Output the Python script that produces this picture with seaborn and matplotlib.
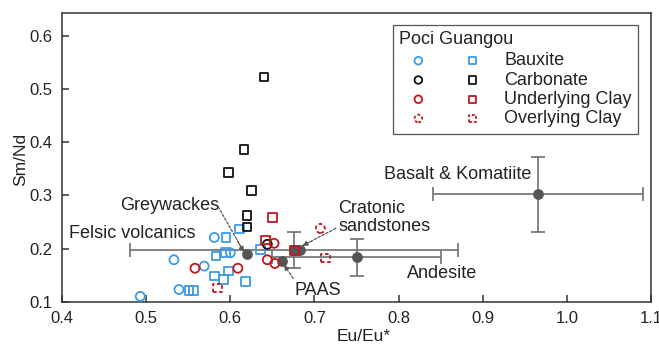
import numpy as np
import pandas as pd
import seaborn as sns
import matplotlib
matplotlib.use("Agg")
import matplotlib.pyplot as plt
from matplotlib.legend_handler import HandlerTuple

# ---- sample data (Eu/Eu*, Sm/Nd) ----
bauxite_poci_x = [0.493, 0.533, 0.539, 0.569, 0.581, 0.600]
bauxite_poci_y = [0.110, 0.179, 0.123, 0.167, 0.221, 0.192]
bauxite_guangou_x = [0.551, 0.556, 0.581, 0.583, 0.592, 0.594, 0.595, 0.598, 0.611, 0.618, 0.636]
bauxite_guangou_y = [0.121, 0.121, 0.148, 0.186, 0.142, 0.193, 0.221, 0.158, 0.237, 0.138, 0.198]

carbonate_poci_x = [0.644]
carbonate_poci_y = [0.208]
carbonate_guangou_x = [0.640, 0.6165, 0.598, 0.625, 0.620, 0.620]
carbonate_guangou_y = [0.523, 0.387, 0.343, 0.309, 0.262, 0.241]

underlying_poci_x = [0.558, 0.609, 0.652, 0.644, 0.653]
underlying_poci_y = [0.163, 0.163, 0.210, 0.179, 0.172]
underlying_guangou_x = [0.650, 0.642, 0.676]
underlying_guangou_y = [0.259, 0.216, 0.196]

overlying_poci_x = [0.707]
overlying_poci_y = [0.238]
overlying_guangou_x = [0.585, 0.713]
overlying_guangou_y = [0.126, 0.182]

# ---- reference compositions ----
ref_names = ["Felsic volcanics", "Andesite", "Basalt & Komatiite",
             "Greywackes", "PAAS", "Cratonic sandstones"]
ref_x = [0.676, 0.750, 0.966, 0.620, 0.662, 0.683]
ref_y = [0.197, 0.184, 0.302, 0.190, 0.177, 0.197]
ref_xerr = [0.195, 0.100, 0.125, np.nan, np.nan, np.nan]
ref_yerr = [0.034, 0.035, 0.070, np.nan, np.nan, np.nan]

groups = ["Bauxite", "Carbonate", "Underlying Clay", "Overlying Clay"]
group_colors = {"Bauxite": "#3d9be6", "Carbonate": "#111111",
                "Underlying Clay": "#c3161c", "Overlying Clay": "#c3161c"}
group_dashed = {"Bauxite": False, "Carbonate": False,
                "Underlying Clay": False, "Overlying Clay": True}

rows = []
for g, (px, py, gx, gy) in zip(groups, [
        (bauxite_poci_x, bauxite_poci_y, bauxite_guangou_x, bauxite_guangou_y),
        (carbonate_poci_x, carbonate_poci_y, carbonate_guangou_x, carbonate_guangou_y),
        (underlying_poci_x, underlying_poci_y, underlying_guangou_x, underlying_guangou_y),
        (overlying_poci_x, overlying_poci_y, overlying_guangou_x, overlying_guangou_y)]):
    for x, y in zip(px, py):
        rows.append((g, "Poci", x, y))
    for x, y in zip(gx, gy):
        rows.append((g, "Guangou", x, y))
samples = pd.DataFrame(rows, columns=["group", "site", "EuEu", "SmNd"])
refs = pd.DataFrame({"name": ref_names, "EuEu": ref_x, "SmNd": ref_y,
                     "xerr": ref_xerr, "yerr": ref_yerr})

sns.set_theme(style="ticks")
plt.rcParams["font.family"] = ["Liberation Sans", "DejaVu Sans"]
plt.rcParams["axes.edgecolor"] = "#333333"
plt.rcParams["axes.linewidth"] = 1.1

fig = plt.figure(figsize=(6.59, 3.46), dpi=100)
ax = fig.add_axes([0.0941, 0.128, 0.8938, 0.8336])

ref_color = "#6e6e6e"
# reference ranges with error bars
for _, r in refs.iterrows():
    ax.errorbar(r["EuEu"], r["SmNd"],
                xerr=None if np.isnan(r["xerr"]) else r["xerr"],
                yerr=None if np.isnan(r["yerr"]) else r["yerr"],
                fmt="none", ecolor=ref_color, elinewidth=1.2, capsize=5,
                capthick=1.2, zorder=1)
sns.scatterplot(data=refs, x="EuEu", y="SmNd", color="#555555", s=60,
                edgecolor="#555555", linewidth=0, ax=ax, zorder=2, legend=False)

# samples: circles = Poci, squares = Guangou
site_marker = {"Poci": "o", "Guangou": "s"}
site_size = {"Poci": 42, "Guangou": 38}
for g in groups:
    for site in ["Poci", "Guangou"]:
        sub = samples[(samples["group"] == g) & (samples["site"] == site)]
        ls = (0, (2.0, 1.4)) if group_dashed[g] else "solid"
        sns.scatterplot(data=sub, x="EuEu", y="SmNd", marker=site_marker[site],
                        s=site_size[site], facecolor="none", edgecolor=group_colors[g],
                        linewidth=1.3, linestyle=ls, ax=ax, zorder=3, legend=False)

ax.set_xlim(0.4, 1.1)
ax.set_ylim(0.1, 0.643)
ax.set_xticks([0.4, 0.5, 0.6, 0.7, 0.8, 0.9, 1.0, 1.1])
ax.set_yticks([0.1, 0.2, 0.3, 0.4, 0.5, 0.6])
ax.tick_params(direction="in", length=5, width=1.1, color="#333333",
               labelsize=12, labelcolor="#222222", pad=7)
ax.set_xlabel("Eu/Eu*", fontsize=12.5, color="#222222")
ax.set_ylabel("Sm/Nd", fontsize=12.5, color="#222222")
ax.xaxis.set_label_coords(0.513, -0.095)
ax.yaxis.set_label_coords(-0.057, 0.495)
for s in ax.spines.values():
    s.set_visible(True)

# labels for the reference compositions
text_kw = dict(fontsize=13, color="#222222")
ax.text(0.484, 0.228, "Felsic volcanics", ha="center", va="center", **text_kw)
ax.text(0.528, 0.282, "Greywackes", ha="center", va="center", **text_kw)
ax.text(0.728, 0.2586, "Cratonic\nsandstones", ha="left", va="center",
        linespacing=1.05, **text_kw)
ax.text(0.870, 0.340, "Basalt & Komatiite", ha="center", va="center", **text_kw)
ax.text(0.852, 0.154, "Andesite", ha="center", va="center", **text_kw)
ax.text(0.704, 0.122, "PAAS", ha="center", va="center", **text_kw)

# dashed leader arrows
arrows = [((0.5856, 0.2789), (0.616, 0.194)),
          ((0.7254, 0.2382), (0.6859, 0.2055)),
          ((0.6747, 0.1440), (0.664, 0.169))]
for (sx, sy), (ex, ey) in arrows:
    ax.annotate("", xy=(ex, ey), xytext=(sx, sy),
                arrowprops=dict(arrowstyle="-", color="#555555", lw=0.9,
                                linestyle=(0, (2.0, 1.5)), shrinkA=0, shrinkB=0),
                zorder=4)
    hx, hy = ex - 0.25 * (ex - sx), ey - 0.25 * (ey - sy)
    ax.annotate("", xy=(ex, ey), xytext=(hx, hy),
                arrowprops=dict(arrowstyle="-|>", color="#555555", lw=0.6,
                                mutation_scale=8, shrinkA=0, shrinkB=0),
                zorder=4)

# legend: one row per group, a circle (Poci) and a square (Guangou)
handles = []
for g in groups:
    ls = (0, (1.6, 1.2)) if group_dashed[g] else "solid"
    hc = ax.scatter([], [], marker="o", s=30, facecolors="none",
                    edgecolors=group_colors[g], linewidths=1.3, linestyles=ls)
    hs = ax.scatter([], [], marker="s", s=28, facecolors="none",
                    edgecolors=group_colors[g], linewidths=1.3, linestyles=ls)
    handles.append((hc, hs))
leg = ax.legend(handles, groups, title="Poci Guangou",
                handler_map={tuple: HandlerTuple(ndivide=None, pad=0.886)},
                handlelength=5.09, handletextpad=0.72, labelspacing=0.125,
                borderpad=0.35, fontsize=13, title_fontsize=13,
                loc="upper left", bbox_to_anchor=(0.562, 0.9594),
                borderaxespad=0, frameon=True, fancybox=False,
                edgecolor="#555555", framealpha=1, alignment="left",
                scatterpoints=1)
leg._legend_box.sep = 3.0
leg.get_frame().set_linewidth(0.9)
for t in leg.get_texts():
    t.set_color("#222222")
leg.get_title().set_color("#222222")

fig.savefig("out.png", dpi=100)
